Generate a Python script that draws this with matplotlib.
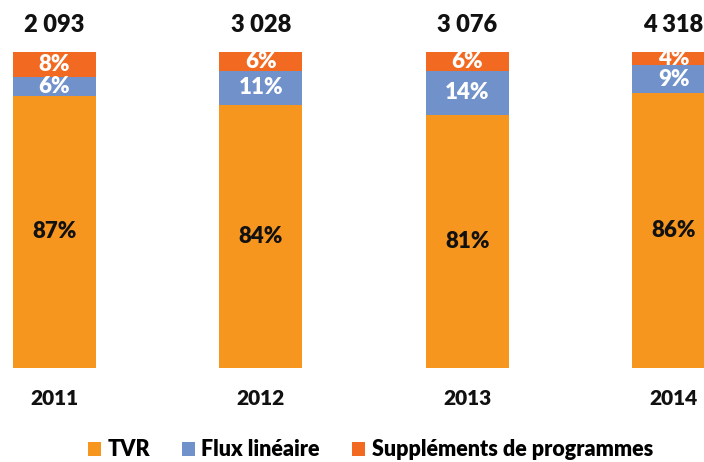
import matplotlib
matplotlib.use("Agg")
import matplotlib.pyplot as plt
import numpy as np

years = ["2011", "2012", "2013", "2014"]
totals = [2093, 3028, 3076, 4318]
tvr = [87, 84, 81, 86]
flux = [6, 11, 14, 9]
supp = [8, 6, 6, 4]
series_names = ["TVR", "Flux linéaire", "Suppléments de programmes"]

colors = ["#F7961E", "#7191CB", "#F26A22"]
txt_colors = ["#111111", "white", "white"]

plt.rcParams['font.family'] = ['Lato', 'DejaVu Sans']
W = 'heavy'

fig = plt.figure(figsize=(7.04, 4.62), dpi=100)
ax = fig.add_axes([0, 1 - 368/462, 1, 316/462])

x = np.arange(len(years))
data = np.array([tvr, flux, supp], dtype=float)
norm = data / data.sum(axis=0) * 100
bottom = np.zeros(len(years))
handles = []
for i in range(3):
    b = ax.bar(x, norm[i], 0.402, bottom=bottom, color=colors[i], label=series_names[i],
               edgecolor="none")
    handles.append(b)
    for j in range(len(years)):
        ax.text(x[j], bottom[j] + norm[i][j] / 2, f"{int(data[i][j])}%", ha='center', va='center',
                fontsize=16, fontweight=W, color=txt_colors[i], clip_on=False)
    bottom += norm[i]

for j in range(len(years)):
    ax.text(x[j], 108.5, f"{totals[j]:,}".replace(",", " "), ha='center', va='center',
            fontsize=17, fontweight=W, color='#111111', clip_on=False)
    ax.text(x[j], -9.5, years[j], ha='center', va='center',
            fontsize=15, fontweight=W, color='#111111', clip_on=False)

ax.set_xlim(-0.264, 3.147)
ax.set_ylim(0, 100)
ax.axis('off')

fig.legend(handles=handles, labels=series_names, loc='center', bbox_to_anchor=(0.526, 1 - 450/462),
           ncol=3, frameon=False, handlelength=0.6, handleheight=0.6, handletextpad=0.3,
           columnspacing=1.5, prop={'size': 15.5, 'weight': W})

fig.savefig("out.png", dpi=100, facecolor='white')
